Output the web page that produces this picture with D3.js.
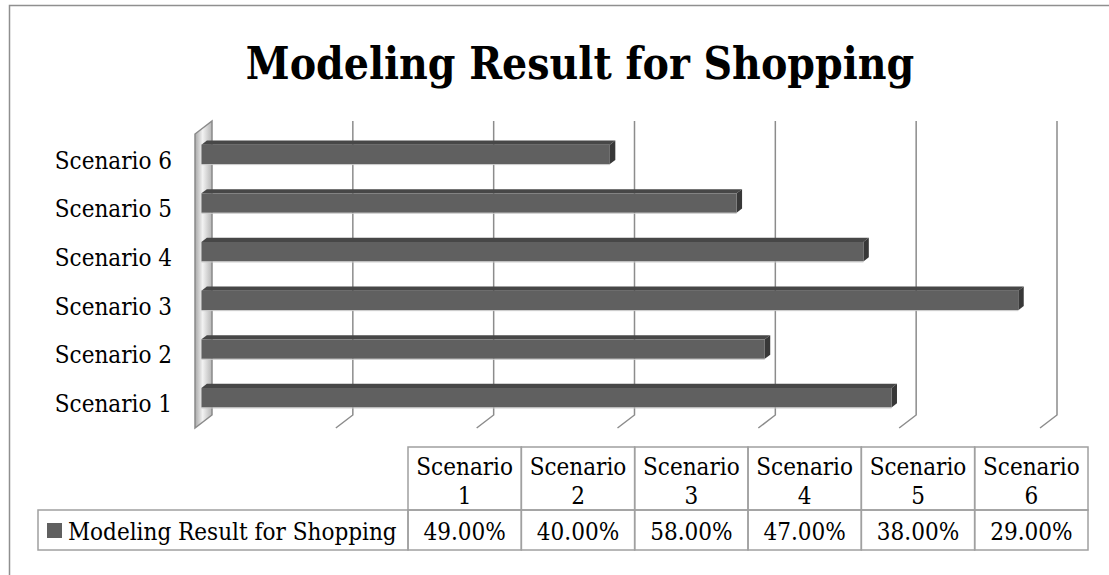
<!DOCTYPE html>
<html>
<head>
<meta charset="utf-8">
<script src="https://cdn.jsdelivr.net/npm/d3@7"></script>
<style>
  body { margin: 0; background: #fff; }
  text { font-family: "DejaVu Serif Condensed", "DejaVu Serif", serif; fill: #000; }
</style>
</head>
<body>
<script>
// data
var categories = ["Scenario 1", "Scenario 2", "Scenario 3", "Scenario 4", "Scenario 5", "Scenario 6"];
var values = [0.49, 0.40, 0.58, 0.47, 0.38, 0.29];
var seriesName = "Modeling Result for Shopping";
var title = "Modeling Result for Shopping";
var tickValues = [0.1, 0.2, 0.3, 0.4, 0.5, 0.6];

var width = 1109, height = 575;
var fs = "24px";

var svg = d3.select("body").append("svg")
	.attr("width", width)
	.attr("height", height);

// chart border (only top/left visible)
svg.append("rect")
	.attr("x", 9.5).attr("y", 5.5)
	.attr("width", 1200).attr("height", 700)
	.attr("fill", "none")
	.attr("stroke", "#8f8f8f")
	.attr("stroke-width", 1.5);

svg.append("text")
	.attr("x", 580).attr("y", 79)
	.attr("text-anchor", "middle")
	.style("font-size", "44px")
	.style("font-weight", "bold")
	.text(title);

// 3d-ish plot geometry
var depth = [-17, 13];   // back plane -> front plane
var x = d3.scaleLinear().domain([0, 0.6]).range([212, 1057]);
var y = d3.scaleBand()
	.domain(categories.slice().reverse())
	.range([121, 415])
	.paddingInner(0.6)
	.paddingOuter(0.32);

var defs = svg.append("defs");
var grad = defs.append("linearGradient").attr("id", "wall")
	.attr("x1", 0).attr("y1", 0).attr("x2", 1).attr("y2", 0);
grad.append("stop").attr("offset", "0%").attr("stop-color", "#a8a8a8");
grad.append("stop").attr("offset", "45%").attr("stop-color", "#f2f2f2");
grad.append("stop").attr("offset", "100%").attr("stop-color", "#b5b5b5");

var y0 = y.range()[0], y1 = y.range()[1];
var x0 = x(0);

// side wall
svg.append("path")
	.attr("d", "M" + x0 + "," + y0 + "L" + x0 + "," + y1 +
		"L" + (x0 + depth[0]) + "," + (y1 + depth[1]) +
		"L" + (x0 + depth[0]) + "," + (y0 + depth[1]) + "Z")
	.attr("fill", "url(#wall)")
	.attr("stroke", "#8a8a8a")
	.attr("stroke-width", 1.5);

// gridlines on back wall + floor
svg.append("g").selectAll("path")
	.data(tickValues)
	.join("path")
	.attr("d", function(t) {
		var gx = x(t);
		return "M" + gx + "," + y0 + "L" + gx + "," + y1 + "L" + (gx + depth[0]) + "," + (y1 + depth[1]);
	})
	.attr("fill", "none")
	.attr("stroke", "#8c8c8c")
	.attr("stroke-width", 1.5);

// bars
var fr = 0.62, bk = 0.3;   // bar front / back position inside depth
var bars = svg.append("g").selectAll("g")
	.data(categories.map(function(c, i) { return {cat: c, v: values[i]}; }))
	.join("g");

bars.each(function(d) {
	var g = d3.select(this);
	var fx0 = x(0) + depth[0] * fr, fx1 = x(d.v) + depth[0] * fr;
	var fy = y(d.cat) + depth[1] * fr, h = y.bandwidth();
	var dx = depth[0] * (bk - fr), dy = depth[1] * (bk - fr);
	// top face
	g.append("path")
		.attr("d", "M" + fx0 + "," + fy + "L" + fx1 + "," + fy + "L" + (fx1 + dx) + "," + (fy + dy) + "L" + (fx0 + dx) + "," + (fy + dy) + "Z")
		.attr("fill", "#474747");
	// side face
	g.append("path")
		.attr("d", "M" + fx1 + "," + fy + "L" + (fx1 + dx) + "," + (fy + dy) + "L" + (fx1 + dx) + "," + (fy + dy + h) + "L" + fx1 + "," + (fy + h) + "Z")
		.attr("fill", "#383838");
	// front face
	g.append("rect")
		.attr("x", fx0).attr("y", fy)
		.attr("width", fx1 - fx0).attr("height", h)
		.attr("fill", "#606060");
	g.append("line")
		.attr("x1", fx0).attr("x2", fx1)
		.attr("y1", fy + h + 0.5).attr("y2", fy + h + 0.5)
		.attr("stroke", "#c8c8c8");
});

// category labels
svg.append("g").selectAll("text")
	.data(categories)
	.join("text")
	.attr("x", 172)
	.attr("y", function(c) { return y(c) + y.bandwidth() / 2 + depth[1] * fr + 6; })
	.attr("dy", "0.35em")
	.attr("text-anchor", "end")
	.style("font-size", fs)
	.text(function(c) { return c; });

// data table
var col = d3.scaleBand().domain(categories).range([408, 1088]);
var hTop = 447, hMid = 510, hBot = 550;
var tbl = svg.append("g");
var fmt = d3.format(".2%");

tbl.selectAll("rect.hd")
	.data(categories)
	.join("rect")
	.attr("class", "hd")
	.attr("x", function(c) { return col(c); })
	.attr("y", hTop)
	.attr("width", col.bandwidth())
	.attr("height", hMid - hTop);

tbl.selectAll("rect.vl")
	.data(categories)
	.join("rect")
	.attr("class", "vl")
	.attr("x", function(c) { return col(c); })
	.attr("y", hMid)
	.attr("width", col.bandwidth())
	.attr("height", hBot - hMid);

tbl.append("rect")
	.attr("x", 38).attr("y", hMid)
	.attr("width", 408 - 38).attr("height", hBot - hMid);

tbl.selectAll("rect")
	.attr("fill", "none")
	.attr("stroke", "#a0a0a0")
	.attr("stroke-width", 1.5);

var hd = tbl.selectAll("text.hd")
	.data(categories)
	.join("text")
	.attr("class", "hd")
	.attr("text-anchor", "middle")
	.style("font-size", fs);
hd.append("tspan")
	.attr("x", function(c) { return col(c) + col.bandwidth() / 2; })
	.attr("y", 475)
	.text(function(c) { return c.split(" ")[0]; });
hd.append("tspan")
	.attr("x", function(c) { return col(c) + col.bandwidth() / 2; })
	.attr("y", 504)
	.text(function(c) { return c.split(" ")[1]; });

tbl.selectAll("text.vl")
	.data(values)
	.join("text")
	.attr("class", "vl")
	.attr("x", function(v, i) { return col(categories[i]) + col.bandwidth() / 2; })
	.attr("y", 540)
	.attr("text-anchor", "middle")
	.style("font-size", fs)
	.text(function(v) { return fmt(v); });

// legend key + series name
tbl.append("rect")
	.attr("x", 47).attr("y", 523)
	.attr("width", 15).attr("height", 15)
	.attr("fill", "#606060");
tbl.append("text")
	.attr("x", 68).attr("y", 540)
	.style("font-size", fs)
	.text(seriesName);
</script>
</body>
</html>
